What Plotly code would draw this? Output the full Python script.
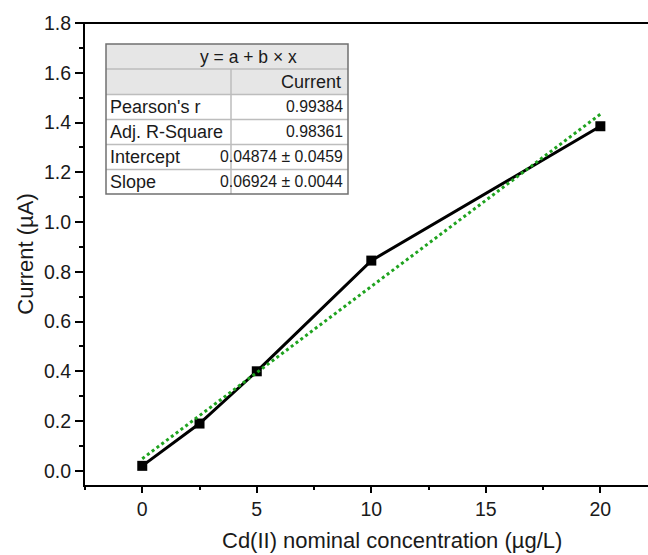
import plotly.graph_objects as go

# measured data (µg/L vs µA)
conc = [0, 2.5, 5, 10, 20]
current = [0.02, 0.19, 0.40, 0.845, 1.385]

# linear fit reported in the table
intercept = 0.04874
slope = 0.06924
fit_x = [0, 20]
fit_y = [intercept + slope * v for v in fit_x]

# fit table text
eq_text = "y = a + b × x"
col_header = "Current"
row_names = ["Pearson's r", "Adj. R-Square", "Intercept", "Slope"]
row_values = ["0.99384", "0.98361", "0.04874 ± 0.0459", "0.06924 ± 0.0044"]

W, H = 648, 555
ML, MR, MT, MB = 85, 0, 23, 70
PL, PR, PT, PB = ML, W - MR, MT, H - MB  # plot area in pixels


def px(x):
    return (x - PL) / (PR - PL)


def py(y):
    return (PB - y) / (PB - PT)


FONT = "Liberation Sans, Arial, sans-serif"

fig = go.Figure()

fig.add_trace(go.Scatter(
    x=conc, y=current,
    mode="lines+markers",
    line=dict(color="black", width=3),
    marker=dict(symbol="square", size=10, color="black"),
    name="Current",
))

fig.add_trace(go.Scatter(
    x=fit_x, y=fit_y,
    mode="lines",
    line=dict(color="#1fa31f", width=3, dash="dot"),
    name="Linear fit",
))

shapes = []
annotations = []

# top frame line (Origin style, sticks out on the left)
shapes.append(dict(type="line", xref="paper", yref="paper",
                   x0=px(77), x1=1, y0=1, y1=1,
                   line=dict(color="black", width=2)))

# table geometry (pixels)
t_left, t_right, t_mid = 106, 348, 231
row_edges = [44, 69, 94.5, 119.5, 144.5, 169.5, 194]

shapes.append(dict(type="rect", xref="paper", yref="paper",
                   x0=px(t_left), x1=px(t_right), y0=py(row_edges[2]), y1=py(row_edges[0]),
                   fillcolor="#e6e6e6", line=dict(width=0)))
shapes.append(dict(type="rect", xref="paper", yref="paper",
                   x0=px(t_left), x1=px(t_right), y0=py(row_edges[-1]), y1=py(row_edges[2]),
                   fillcolor="white", line=dict(width=0)))
for e in row_edges[1:-1]:
    shapes.append(dict(type="line", xref="paper", yref="paper",
                       x0=px(t_left), x1=px(t_right), y0=py(e), y1=py(e),
                       line=dict(color="#bdbdbd", width=1.5)))
shapes.append(dict(type="line", xref="paper", yref="paper",
                   x0=px(t_mid), x1=px(t_mid), y0=py(row_edges[-1]), y1=py(row_edges[1]),
                   line=dict(color="#bdbdbd", width=1.5)))
shapes.append(dict(type="rect", xref="paper", yref="paper",
                   x0=px(t_left), x1=px(t_right), y0=py(row_edges[-1]), y1=py(row_edges[0]),
                   line=dict(color="#707070", width=1.5)))

tfont = dict(family=FONT, size=18, color="#1a1a1a")
vfont = dict(family=FONT, size=15.8, color="#1a1a1a")
annotations.append(dict(xref="paper", yref="paper", x=px(248),
                        y=py((row_edges[0] + row_edges[1]) / 2), text=eq_text,
                        showarrow=False, font=dict(family=FONT, size=17.5, color="#1a1a1a"),
                        xanchor="center", yanchor="middle"))
annotations.append(dict(xref="paper", yref="paper", x=px(343),
                        y=py((row_edges[1] + row_edges[2]) / 2), text=col_header,
                        showarrow=False, font=tfont, xanchor="right", yanchor="middle"))
for i, (name, val) in enumerate(zip(row_names, row_values)):
    yc = py((row_edges[i + 2] + row_edges[i + 3]) / 2)
    annotations.append(dict(xref="paper", yref="paper", x=px(t_left + 2), y=yc, text=name,
                            showarrow=False, font=tfont, xanchor="left", yanchor="middle"))
    annotations.append(dict(xref="paper", yref="paper", x=px(t_right - 3), y=yc, text=val,
                            showarrow=False, font=vfont, xanchor="right", yanchor="middle"))

# x title centred on the full (cropped) frame, as in the source figure
annotations.append(dict(xref="paper", yref="paper", x=px(392), y=py(540),
                        text="Cd(II) nominal concentration (µg/L)", showarrow=False,
                        font=dict(family=FONT, size=22, color="#1a1a1a"),
                        xanchor="center", yanchor="middle"))

fig.update_layout(
    width=W, height=H,
    margin=dict(l=ML, r=MR, t=MT, b=MB),
    paper_bgcolor="white", plot_bgcolor="white",
    showlegend=False,
    font=dict(family=FONT, color="#1a1a1a"),
    shapes=shapes,
    annotations=annotations,
)

fig.update_xaxes(
    range=[-2.5, 22.08],
    tickmode="linear", tick0=0, dtick=5,
    ticks="outside", ticklen=6, tickwidth=2, tickcolor="black",
    minor=dict(dtick=2.5, ticks="outside", ticklen=3, tickwidth=2, tickcolor="black"),
    showline=True, linecolor="black", linewidth=2,
    showgrid=False, zeroline=False,
    tickfont=dict(size=19.5),
)

fig.update_yaxes(
    range=[-0.057, 1.8],
    tickmode="linear", tick0=0, dtick=0.2, tickformat=".1f",
    ticks="outside", ticklen=8, tickwidth=2, tickcolor="black",
    minor=dict(dtick=0.1, ticks="outside", ticklen=4, tickwidth=2, tickcolor="black"),
    showline=True, linecolor="black", linewidth=2,
    showgrid=False, zeroline=False,
    tickfont=dict(size=19.5),
    title=dict(text="Current (µA)", font=dict(size=22), standoff=4),
)

# drop the default body margin so the figure sits at the page origin
fig.write_html("out.html", config={"displayModeBar": False},
               post_script="document.body.style.margin='0';document.body.style.overflow='hidden';")
